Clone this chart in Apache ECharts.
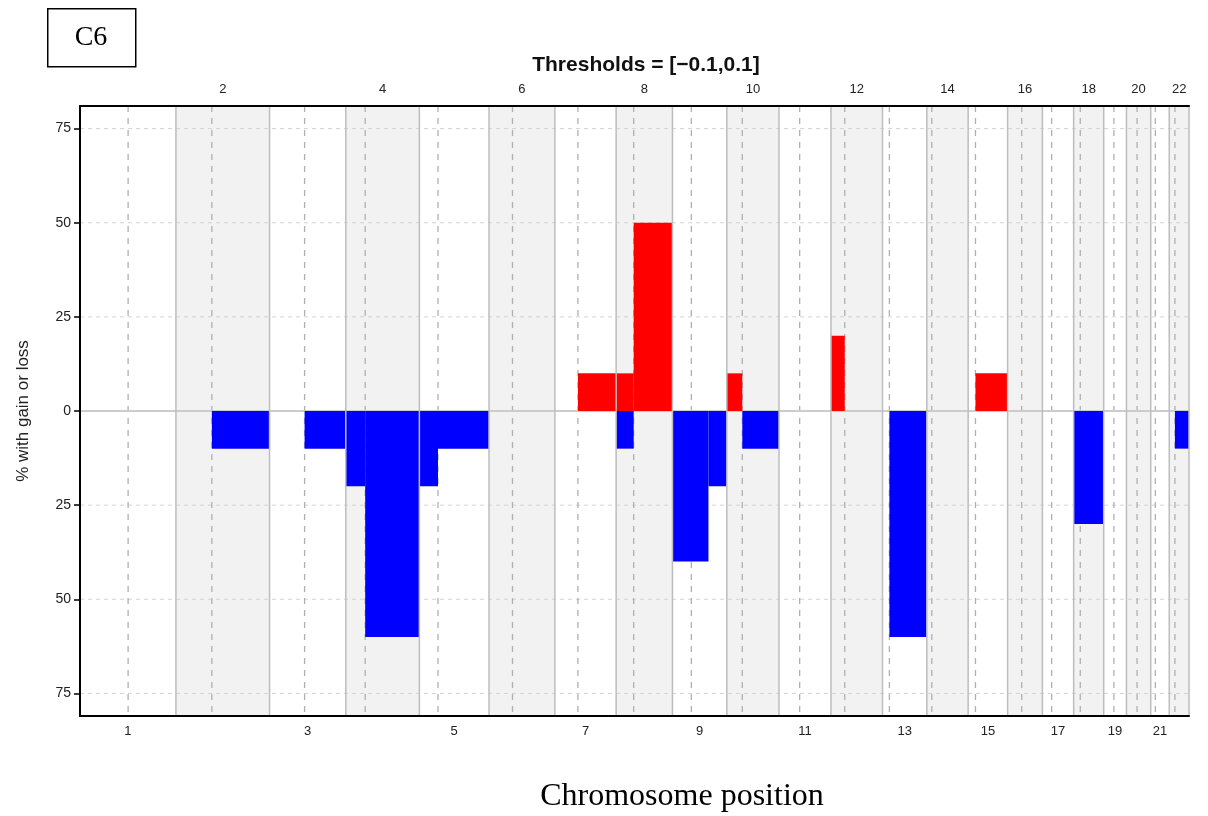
<!DOCTYPE html>
<html>
<head>
<meta charset="utf-8">
<script src="https://cdn.jsdelivr.net/npm/echarts@6/dist/echarts.min.js"></script>
<style>html,body{margin:0;padding:0;background:#fff}#c{width:1208px;height:816px}</style>
</head>
<body>
<div id="c"></div>
<script>
// Chromosome lengths (Mb) and centromere positions (Mb), chromosomes 1..22
const chromNames = ['1','2','3','4','5','6','7','8','9','10','11','12','13','14','15','16','17','18','19','20','21','22'];
const chromLengths = [249.25, 243.2, 198.02, 191.15, 180.92, 171.12, 159.14, 146.36, 141.21, 135.53, 135.01, 133.85, 115.17, 107.35, 102.53, 90.35, 81.2, 78.08, 59.13, 63.03, 48.13, 51.3];
const centromeres = [125.0, 93.3, 91.0, 50.4, 48.4, 61.0, 59.9, 45.6, 49.0, 40.2, 53.7, 35.8, 17.9, 13.0, 19.0, 36.6, 24.0, 17.2, 26.5, 27.5, 12.0, 14.7];

// Gains: [chromosome, start Mb, end Mb, % with gain]
const gains = [
  [7, 59.9, 159.14, 10],
  [8, 0, 45.6, 10],
  [8, 45.6, 146.36, 50],
  [10, 0, 40.2, 10],
  [12, 0, 35.8, 20],
  [15, 19.0, 102.53, 10]
];
// Losses: [chromosome, start Mb, end Mb, % with loss]
const losses = [
  [2, 93.3, 243.2, 10],
  [3, 91.0, 198.02, 10],
  [4, 0, 50.4, 20],
  [4, 50.4, 191.15, 60],
  [5, 0, 48.4, 20],
  [5, 48.4, 180.92, 10],
  [8, 0, 45.6, 10],
  [9, 0, 93.5, 40],
  [9, 93.5, 141.21, 20],
  [10, 40.2, 135.53, 10],
  [13, 17.9, 115.17, 60],
  [18, 0, 78.08, 30],
  [22, 14.7, 51.3, 10]
];
const yTicks = [-75, -50, -25, 0, 25, 50, 75];
const yGrid = [-75, -50, -25, 25, 50, 75];
const yLimit = 81;

// cumulative genome coordinates
const chromStart = [];
let acc = 0;
chromLengths.forEach(l => { chromStart.push(acc); acc += l; });
const genomeEnd = acc;
const chromMid = chromLengths.map((l, i) => chromStart[i] + l / 2);
const oddMids = chromMid.filter((m, i) => i % 2 === 0);
const evenMids = chromMid.filter((m, i) => i % 2 === 1);
const midToName = v => {
  let best = 0, bd = Infinity;
  chromMid.forEach((m, i) => { const d = Math.abs(m - v); if (d < bd) { bd = d; best = i; } });
  return chromNames[best];
};

const bandData = chromStart.map((s, i) => [s, s + chromLengths[i]]).filter((d, i) => i % 2 === 1);
const centroData = centromeres.map((c, i) => chromStart[i] + c);
const boundaryData = chromStart.slice(1).concat([genomeEnd]);
const gainData = gains.map(g => [chromStart[g[0]-1] + g[1], chromStart[g[0]-1] + g[2], g[3]]);
const lossData = losses.map(g => [chromStart[g[0]-1] + g[1], chromStart[g[0]-1] + g[2], -g[3]]);

function rectItem(color) {
  return function (params, api) {
    const p0 = api.coord([api.value(0), 0]);
    const p1 = api.coord([api.value(1), api.value(2)]);
    return { type: 'rect', shape: { x: p0[0], y: Math.min(p0[1], p1[1]), width: p1[0] - p0[0], height: Math.abs(p1[1] - p0[1]) }, style: { fill: color } };
  };
}

const chart = echarts.init(document.getElementById('c'), null, { renderer: 'canvas' });
const labelFont = { fontFamily: 'Liberation Sans, Arial, sans-serif', color: '#222' };

chart.setOption({
  animation: false,
  title: {
    text: 'Thresholds = [\u22120.1,0.1]',
    left: 641, top: 50, textAlign: 'center',
    textStyle: { fontFamily: 'Liberation Sans, Arial, sans-serif', fontWeight: 'bold', fontSize: 21, color: '#111' }
  },
  grid: { left: 80, right: 19, top: 106, bottom: 100 },
  xAxis: [
    {
      type: 'value', position: 'bottom', min: 0, max: genomeEnd, z: 20,
      axisLine: { show: true, onZero: false, lineStyle: { color: '#000', width: 2 } },
      axisTick: { show: false },
      splitLine: { show: false },
      axisLabel: { customValues: oddMids, formatter: midToName, margin: 9, fontSize: 13, ...labelFont }
    },
    {
      type: 'value', position: 'top', min: 0, max: genomeEnd, z: 20,
      axisLine: { show: true, onZero: false, lineStyle: { color: '#000', width: 2 } },
      axisTick: { show: false },
      splitLine: { show: false },
      axisLabel: { customValues: evenMids, formatter: midToName, margin: 10, fontSize: 13, ...labelFont }
    }
  ],
  yAxis: {
    type: 'value', min: -yLimit, max: yLimit, z: 20,
    name: '% with gain or loss', nameLocation: 'middle', nameGap: 48,
    nameTextStyle: { fontSize: 17, ...labelFont },
    axisLine: { show: true, lineStyle: { color: '#000', width: 2 } },
    axisTick: { show: true, customValues: yTicks, length: 6, lineStyle: { color: '#000', width: 1.5 } },
    axisLabel: { customValues: yTicks, formatter: v => String(Math.abs(v)), margin: 9, fontSize: 14, ...labelFont },
    splitLine: { show: false }
  },
  graphic: [
    { type: 'rect', left: 47, top: 8, shape: { width: 88, height: 58 }, style: { fill: '#fff', stroke: '#000', lineWidth: 1.5 } },
    { type: 'text', x: 91, y: 38, style: { text: 'C6', font: '28px "Liberation Serif", "Times New Roman", serif', fill: '#000', align: 'center', verticalAlign: 'middle' } },
    { type: 'text', x: 682, y: 797, style: { text: 'Chromosome position', font: '32px "Liberation Serif", "Times New Roman", serif', fill: '#000', align: 'center', verticalAlign: 'middle' } }
  ],
  series: [
    {
      type: 'custom', name: 'bands', z: 1, silent: true, clip: true,
      data: bandData,
      renderItem: function (params, api) {
        const p0 = api.coord([api.value(0), yLimit]);
        const p1 = api.coord([api.value(1), -yLimit]);
        return { type: 'rect', shape: { x: p0[0], y: p0[1], width: p1[0] - p0[0], height: p1[1] - p0[1] }, style: { fill: '#f2f2f2' } };
      }
    },
    {
      type: 'custom', name: 'hgrid', z: 2, silent: true,
      data: yGrid.map(v => [v]),
      renderItem: function (params, api) {
        const a = api.coord([0, api.value(0)]);
        const b = api.coord([genomeEnd, api.value(0)]);
        return { type: 'line', shape: { x1: a[0], y1: a[1], x2: b[0], y2: b[1] }, style: { stroke: '#d4d4d4', lineWidth: 1, lineDash: [4, 4] } };
      }
    },
    {
      type: 'custom', name: 'centromeres', z: 3, silent: true,
      data: centroData.map(v => [v]),
      renderItem: function (params, api) {
        const a = api.coord([api.value(0), yLimit]);
        const b = api.coord([api.value(0), -yLimit]);
        return { type: 'line', shape: { x1: a[0], y1: a[1], x2: b[0], y2: b[1] }, style: { stroke: '#b0b0b0', lineWidth: 1.3, lineDash: [6, 6] } };
      }
    },
    {
      type: 'custom', name: 'zero', z: 4, silent: true,
      data: [[0]],
      renderItem: function (params, api) {
        const a = api.coord([0, api.value(0)]);
        const b = api.coord([genomeEnd, api.value(0)]);
        return { type: 'line', shape: { x1: a[0], y1: a[1], x2: b[0], y2: b[1] }, style: { stroke: '#cccccc', lineWidth: 2 } };
      }
    },
    { type: 'custom', name: 'gain', z: 5, silent: true, data: gainData, renderItem: rectItem('#ff0000') },
    { type: 'custom', name: 'loss', z: 5, silent: true, data: lossData, renderItem: rectItem('#0000ff') },
    {
      type: 'custom', name: 'boundaries', z: 6, silent: true,
      data: boundaryData.map(v => [v]),
      renderItem: function (params, api) {
        const a = api.coord([api.value(0), yLimit]);
        const b = api.coord([api.value(0), -yLimit]);
        return { type: 'line', shape: { x1: a[0], y1: a[1], x2: b[0], y2: b[1] }, style: { stroke: '#bdbdbd', lineWidth: 1.5 } };
      }
    }
  ]
});
</script>
</body>
</html>
